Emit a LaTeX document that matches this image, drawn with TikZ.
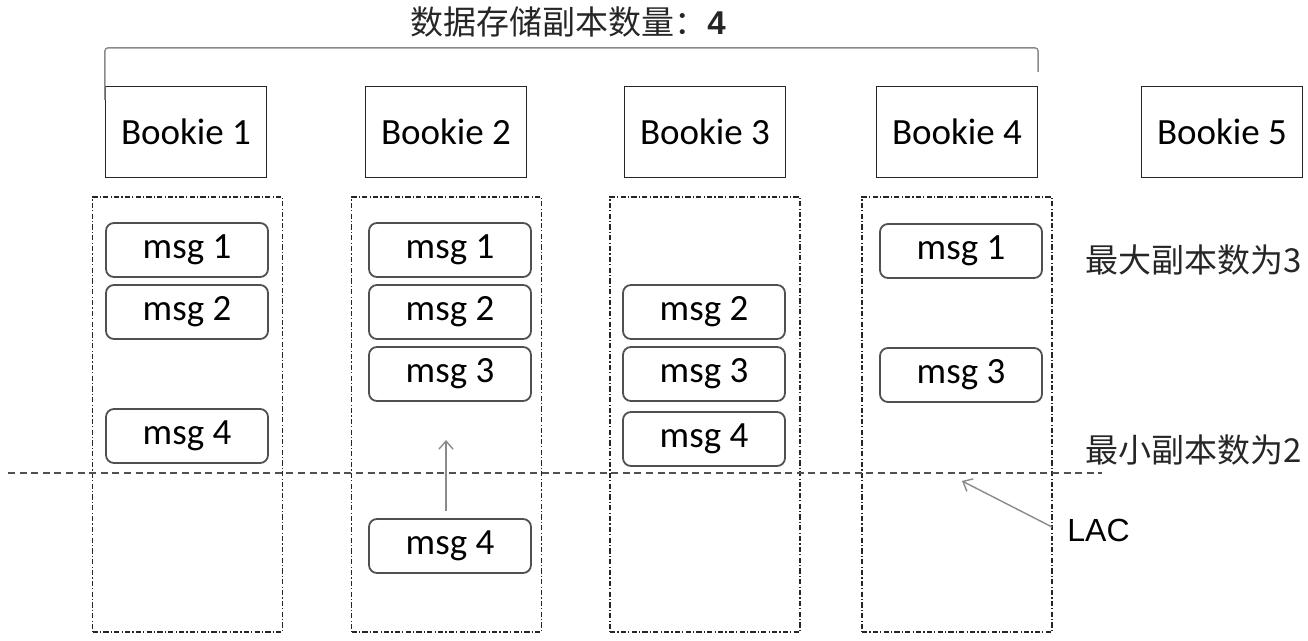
\documentclass[tikz,border=0pt]{standalone}
\usepackage{fontspec}
\setmainfont{Carlito}
\newfontfamily\cjk{Noto Sans CJK SC}
\newfontfamily\arial{Liberation Sans}
\usetikzlibrary{arrows.meta, positioning}
\definecolor{linegray}{HTML}{505050}
\definecolor{arrowgray}{HTML}{8A8A8A}

\begin{document}
\begin{tikzpicture}[>={Straight Barb[length=4pt,width=7pt]}, x=0.5pt, y=-0.5pt, node distance=31pt,
		bookie/.style={draw=black!85, line width=0.6pt, minimum width=80.5pt, minimum height=45.5pt, inner sep=0pt, font=\fontsize{18.5}{20}\selectfont},
		msg/.style={draw=linegray, line width=0.9pt, rounded corners=4pt, minimum width=81pt, minimum height=27pt, inner sep=0pt, font=\fontsize{18.5}{20}\selectfont},
		ledger/.style={draw=black!85, line width=0.65pt, dash pattern=on 2.6pt off 1.1pt on 0.6pt off 1.1pt, minimum width=95pt, minimum height=217.5pt},
		note/.style={inner sep=0pt, text=black!85, font=\cjk\fontsize{16.5}{18}\selectfont},
		quorum/.style={draw=linegray, line width=0.9pt, dash pattern=on 3.5pt off 2.3pt},
		pointer/.style={->, draw=arrowgray, line width=0.7pt},
		brace/.style={draw=arrowgray, line width=0.7pt, rounded corners=1.5pt}]
		\useasboundingbox (0,0) rectangle (1308,641);
		\node[note]	(title)	at (568,22)	{数据存储副本数量：{\arial\bfseries 4}};
		\node[bookie]	(B1)	at (186,132)	{Bookie 1};
		\node[bookie]	(B2)	at (446,132)	{Bookie 2};
		\node[bookie]	(B3)	at (705,132)	{Bookie 3};
		\node[bookie]	(B4)	at (957,132)	{Bookie 4};
		\node[bookie]	(B5)	at (1222,132)	{Bookie 5};
		\node[ledger]	(L1)	at (187.5,414.5)	{};
		\node[ledger]	(L2)	at (446.5,414.5)	{};
		\node[ledger]	(L3)	at (705,414.5)	{};
		\node[ledger]	(L4)	at (957,414.5)	{};
		\node[msg]	(m11)	at (187,250)	{msg 1};
		\node[msg]	(m12)	[below of=m11]	{msg 2};
		\node[msg]	(m14)	[below of=m12, node distance=62pt]	{msg 4};
		\node[msg]	(m21)	at (450,250)	{msg 1};
		\node[msg]	(m22)	[below of=m21]	{msg 2};
		\node[msg]	(m23)	[below of=m22]	{msg 3};
		\node[msg]	(m24)	at (450,546)	{msg 4};
		\node[msg]	(m32)	at (704,312)	{msg 2};
		\node[msg]	(m33)	[below of=m32]	{msg 3};
		\node[msg]	(m34)	[below of=m33, node distance=32.5pt]	{msg 4};
		\node[msg]	(m41)	at (961,251)	{msg 1};
		\node[msg]	(m43)	[below of=m41, node distance=62pt]	{msg 3};
		\node[note, anchor=west]	(maxq)	at (1085,260)	{最大副本数为3};
		\node[note, anchor=west]	(minq)	at (1085,450)	{最小副本数为2};
		\node[inner sep=0pt, anchor=west, font=\arial\fontsize{16}{18}\selectfont]	(lac)	at (1067,530)	{LAC};
		\coordinate	(q0)	at (8,473);
		\coordinate	(q1)	at (1102,473);
		\coordinate	(up)	at (446,440);
		\coordinate	(lacend)	at (962,481);
		\draw[brace]	(B1.north west)++(0,14) |- ([yshift=19pt]B4.north east) -- ([yshift=7pt]B4.north east);
		\draw[quorum]	(q0) -- (q1);
		\draw[pointer]	([xshift=-2pt,yshift=3.5pt]m24.north) -- (up);
		\draw[pointer]	([xshift=-7.5pt,yshift=1.5pt]lac.west) -- (lacend);
	\end{tikzpicture}
\end{document}
